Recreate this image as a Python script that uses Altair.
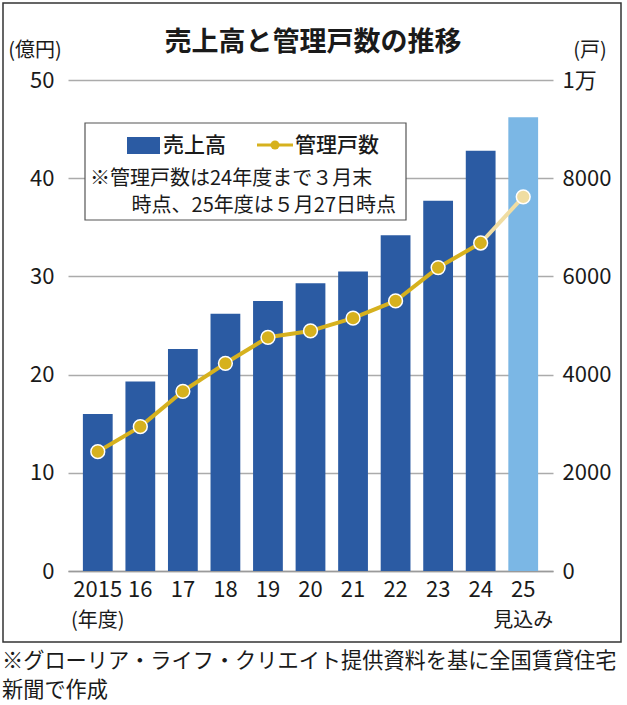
import altair as alt
import pandas as pd

# ---- data ----
years = ["2015", "16", "17", "18", "19", "20", "21", "22", "23", "24", "25"]
year_notes = ["(年度)", "", "", "", "", "", "", "", "", "", "見込み"]
sales = [16.0, 19.3, 22.6, 26.2, 27.5, 29.3, 30.5, 34.2, 37.7, 42.8, 46.2]  # 億円
units = [2430, 2940, 3660, 4230, 4760, 4890, 5150, 5500, 6180, 6680, 7620]  # 戸
kinds = ["実績"] * 10 + ["見込み"]

left_ticks = [0, 10, 20, 30, 40, 50]
right_ticks = [0, 2000, 4000, 6000, 8000, 10000]

NUM_FONT = "Liberation Sans Narrow, Noto Sans CJK JP, sans-serif"
JP_FONT = "Noto Sans CJK JP, sans-serif"
DARK_BLUE = "#2B5BA3"
LIGHT_BLUE = "#7BB7E5"
GOLD = "#D6B11E"
LIGHT_GOLD = "#F0DDA2"

bars_df = pd.DataFrame({"year": years, "sales": sales, "kind": kinds})
notes_df = pd.DataFrame({"year": years, "note": year_notes})
notes_df = notes_df[notes_df["note"] != ""]
pts_df = pd.DataFrame({"year": years, "units": units, "kind": kinds})
seg_rows = []
for i in range(len(years) - 1):
    seg = "実績" if kinds[i + 1] == "実績" else "見込み"
    seg_rows.append({"year": years[i], "units": units[i], "seg": f"{seg}{i}", "kind": seg})
    seg_rows.append({"year": years[i + 1], "units": units[i + 1], "seg": f"{seg}{i}", "kind": seg})
seg_df = pd.DataFrame(seg_rows)

x_enc = alt.X(
    "year:N",
    sort=years,
    title=None,
    scale=alt.Scale(paddingInner=0.3, paddingOuter=0.35),
    axis=alt.Axis(
        labelAngle=0,
        labelFont=NUM_FONT,
        labelFontSize=22,
        labelColor="#1a1a1a",
        labelPadding=8,
        ticks=False,
        domain=True,
        domainColor="#9a9a9a",
        domainWidth=1.5,
        grid=False,
    ),
)

bars = alt.Chart(bars_df).mark_bar().encode(
    x=x_enc,
    y=alt.Y(
        "sales:Q",
        title=None,
        scale=alt.Scale(domain=[0, 50], nice=False),
        axis=alt.Axis(
            orient="left",
            values=left_ticks,
            grid=True,
            gridColor="#ababab",
            gridWidth=1.5,
            domain=False,
            ticks=False,
            labelFont=NUM_FONT,
            labelFontSize=22,
            labelColor="#1a1a1a",
            labelPadding=14,
        ),
    ),
    color=alt.Color(
        "kind:N",
        scale=alt.Scale(domain=["実績", "見込み"], range=[DARK_BLUE, LIGHT_BLUE]),
        legend=None,
    ),
)

notes = alt.Chart(notes_df).mark_text(
    font=JP_FONT, fontSize=20, color="#1a1a1a", baseline="middle", align="center"
).encode(x=x_enc, y=alt.value(541), text="note:N")

right_axis = alt.Axis(
    orient="right",
    values=right_ticks,
    grid=False,
    domain=False,
    ticks=False,
    labelFont=NUM_FONT,
    labelFontSize=22,
    labelColor="#1a1a1a",
    labelPadding=9,
    labelExpr="datum.value == 10000 ? '1万' : datum.value",
)
y_right = alt.Y("units:Q", title=None, scale=alt.Scale(domain=[0, 10000], nice=False), axis=right_axis)

lines = alt.Chart(seg_df).mark_line(strokeWidth=4).encode(
    x=x_enc,
    y=y_right,
    detail="seg:N",
    color=alt.Color(
        "kind:N",
        scale=alt.Scale(domain=["実績", "見込み"], range=[GOLD, LIGHT_GOLD]),
        legend=None,
    ),
)
points = alt.Chart(pts_df).mark_circle(size=190, opacity=1, stroke="white", strokeWidth=1.5).encode(
    x=x_enc,
    y=y_right,
    color=alt.Color(
        "kind:N",
        scale=alt.Scale(domain=["実績", "見込み"], range=[GOLD, LIGHT_GOLD]),
        legend=None,
    ),
)
line_layer = alt.layer(lines, points)

one = pd.DataFrame({"_": [0]})


def txt(text, x, y, size=21, weight="normal", align="left", font=JP_FONT, baseline="middle"):
    return alt.Chart(one).mark_text(
        text=text, font=font, fontSize=size, fontWeight=weight, align=align,
        baseline=baseline, color="#1a1a1a",
    ).encode(x=alt.value(x), y=alt.value(y))


frame = alt.Chart(one).mark_rect(fillOpacity=0, stroke="#333333", strokeWidth=1.5).encode(
    x=alt.value(-65), x2=alt.value(553), y=alt.value(-77), y2=alt.value(562)
)
legend_box = alt.Chart(one).mark_rect(fill="white", stroke="#555555", strokeWidth=1.2).encode(
    x=alt.value(17), x2=alt.value(338), y=alt.value(43), y2=alt.value(140)
)
legend_sq = alt.Chart(one).mark_rect(fill=DARK_BLUE).encode(
    x=alt.value(59), x2=alt.value(92), y=alt.value(57), y2=alt.value(74)
)
legend_line = alt.Chart(one).mark_rule(color=GOLD, strokeWidth=3).encode(
    x=alt.value(189), x2=alt.value(225), y=alt.value(65)
)
legend_dot = alt.Chart(one).mark_circle(color=GOLD, size=80, opacity=1).encode(
    x=alt.value(207), y=alt.value(65)
)

annotations = [
    frame,
    legend_box,
    legend_sq,
    legend_line,
    legend_dot,
    txt("売上高", 95, 66, size=21, weight=500),
    txt("管理戸数", 227, 66, size=21, weight=500),
    txt("※管理戸数は24年度まで３月末", 22, 99, size=20),
    txt("時点、25年度は５月27日時点", 328, 126, size=20, align="right"),
    txt("売上高と管理戸数の推移", 245, -37, size=27, weight="bold", align="center"),
    txt("(億円)", -33, -29, size=20, align="center"),
    txt("(戸)", 522, -29, size=20, align="center"),
    txt("※グローリア・ライフ・クリエイト提供資料を基に全国賃貸住宅", -66, 582, size=21.2),
    txt("新聞で作成", -66, 611, size=21.2),
]

chart = (
    alt.layer(alt.layer(bars, notes), line_layer)
    .resolve_scale(y="independent", color="independent")
)
chart = alt.layer(chart, *annotations).properties(
    width=485,
    height=491,
    autosize=alt.AutoSizeParams(type="none"),
    padding={"left": 68, "top": 80, "right": 74, "bottom": 134},
    background="white",
).configure_view(stroke=None)

chart.save("out.html", embed_options={"renderer": "svg", "actions": False})
